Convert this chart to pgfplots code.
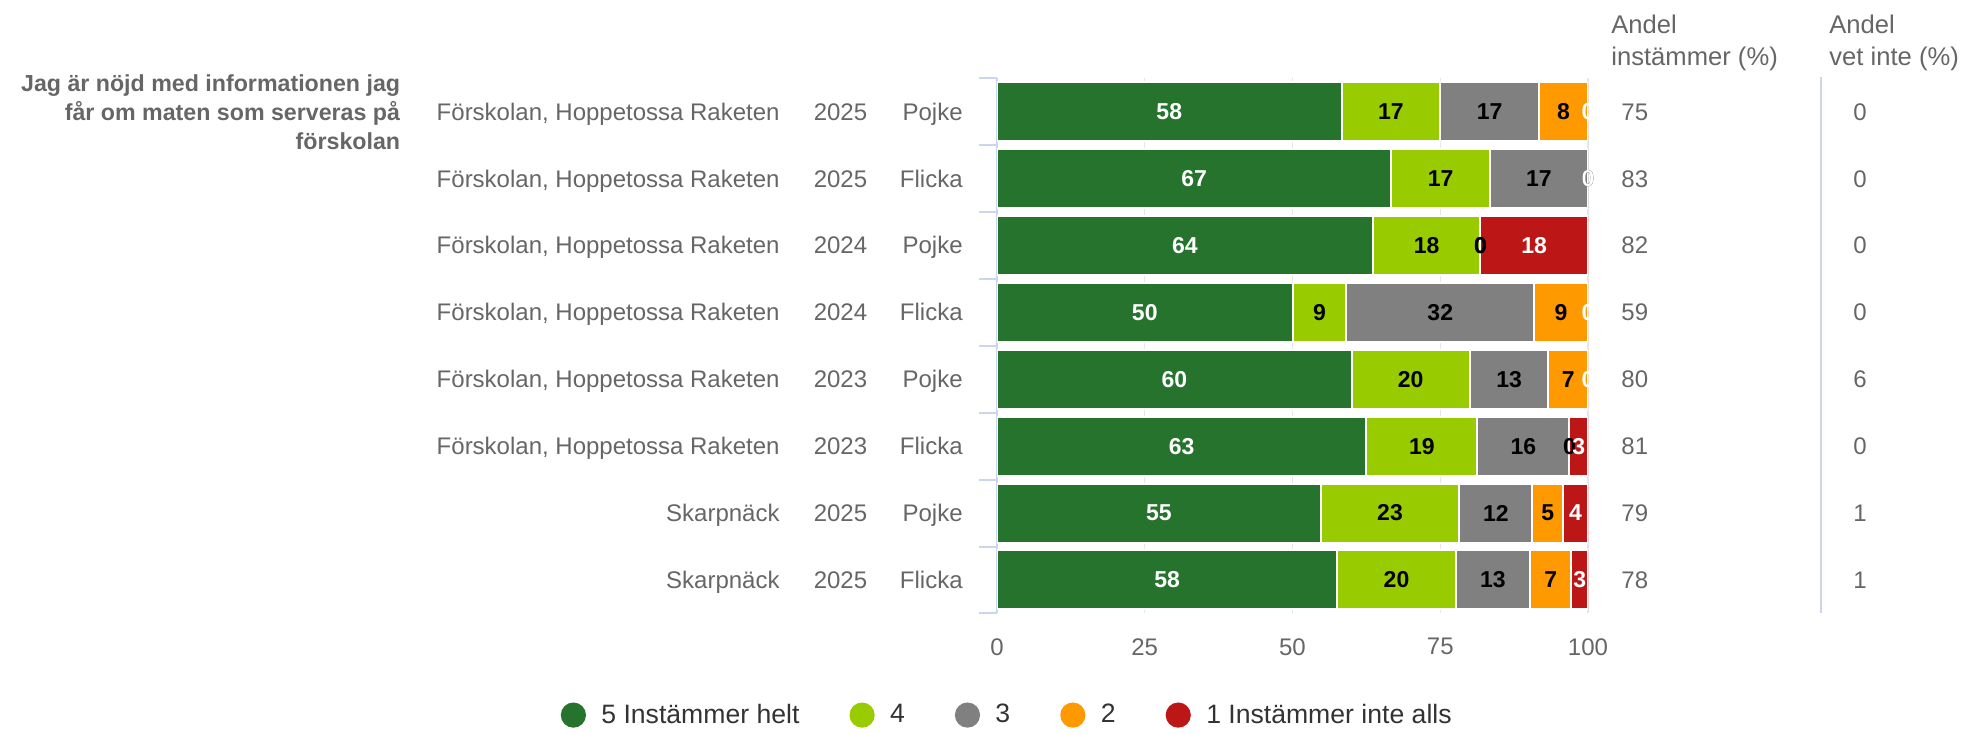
\documentclass[border=0pt]{standalone}
\usepackage{fontspec}
\setmainfont{Liberation Sans}
\usepackage{pgfplots}
\usepackage{pgfplotstable}
\pgfplotsset{compat=1.18}

\definecolor{c5}{HTML}{26732E}
\definecolor{c4}{HTML}{99CC00}
\definecolor{c3}{HTML}{808080}
\definecolor{c2}{HTML}{FF9900}
\definecolor{c1}{HTML}{BD1616}
\definecolor{txt}{HTML}{666666}
\definecolor{legtxt}{HTML}{333333}
\definecolor{axl}{HTML}{CCD6EB}
\definecolor{grd}{HTML}{E6E6E6}

% share (%) per answer, rows from top (1) to bottom (8)
\pgfplotstableread{
row pos g5   g4    g3   g2  g1
1   8   58.3 16.7  16.7 8.3 0
2   7   66.7 16.7  16.6 0   0
3   6   63.6 18.2  0    0   18.2
4   5   50.0 9.1   31.8 9.1 0
5   4   60.0 20.0  13.3 6.7 0
6   3   62.5 18.75 15.6 0   3.15
7   2   54.8 23.4  12.4 5.2 4.2
8   1   57.6 20.0  12.6 7.0 2.8
}\shares

\newcommand\lbl{\fontsize{12}{14}\selectfont}

\pgfplotsset{
  frame/.style={at={(498.5pt,-306.7pt)}, anchor=south west,
    scale only axis, width=295.5pt, height=267.6pt,
    xmin=0, xmax=100, ymin=0.5, ymax=8.5,
    /pgf/number format/assume math mode=true},
  seglabel/.style={draw=none, mark=none, point meta=\thisrow{#1},
    nodes near coords={\pgfmathprintnumber[fixed,precision=0,assume math mode=true]{\pgfplotspointmeta}}},
}

\begin{document}
\begin{tikzpicture}
\begin{scope}[x=0.5pt,y=-0.5pt]
  \path[use as bounding box] (0,0) rectangle (1967,732);
\end{scope}

\begin{axis}[
    frame,
    xbar stacked,
    bar width=29.5pt,
    axis x line*=bottom,
    axis y line*=left,
    x axis line style={draw=none},
    y axis line style={axl, line width=1pt},
    xtick={0,25,50,75,100},
    x tick style={draw=none},
    ytick={0.5,1.5,...,8.5},
    yticklabels={},
    y tick style={axl, line width=1pt},
    tick align=outside,
    major tick length=9pt,
    xmajorgrids,
    grid style={grd, line width=0.6pt},
    xticklabel style={font=\lbl, text=txt},
    legend columns=-1,
    legend image code/.code={\fill[#1,draw=none] (0pt,0pt) circle (6.3pt);
        \path[draw=none,fill=none] (0pt,0pt) -- (12pt,0pt);},
    legend style={at={(axis description cs:0.019,-0.19)}, anchor=center,
        draw=none, fill=none, font=\fontsize{13.3}{15}\selectfont, text=legtxt,
        /tikz/every even column/.append style={column sep=23pt}},
  ]
  \addplot[fill=c5, draw=white, line width=1pt] table[x=g5, y=pos] {\shares};
  \addplot[fill=c4, draw=white, line width=1pt] table[x=g4, y=pos] {\shares};
  \addplot[fill=c3, draw=white, line width=1pt] table[x=g3, y=pos] {\shares};
  \addplot[fill=c2, draw=white, line width=1pt] table[x=g2, y=pos] {\shares};
  \addplot[fill=c1, draw=white, line width=1pt] table[x=g1, y=pos] {\shares};
  \legend{5 Instämmer helt, 4, 3, 2, 1 Instämmer inte alls}
\end{axis}

% segment labels, centred in each segment (zero shares included)
\begin{axis}[
    frame,
    hide axis,
    nodes near coords align={center},
    every node near coord/.append style={anchor=center,
        font=\bfseries\fontsize{11.5}{13}\selectfont},
  ]
  \addplot[seglabel=g5, nodes near coords style={text=white}]
    table[x expr={\thisrow{g5}/2}, y=pos] {\shares};
  \addplot[seglabel=g4, nodes near coords style={text=black}]
    table[x expr={\thisrow{g5}+\thisrow{g4}/2}, y=pos] {\shares};
  \addplot[seglabel=g3, nodes near coords style={text=black}]
    table[x expr={\thisrow{g5}+\thisrow{g4}+\thisrow{g3}/2}, y=pos] {\shares};
  \addplot[seglabel=g2, nodes near coords style={text=black}]
    table[x expr={\thisrow{g5}+\thisrow{g4}+\thisrow{g3}+\thisrow{g2}/2}, y=pos] {\shares};
  \addplot[seglabel=g1, nodes near coords style={text=white}]
    table[x expr={\thisrow{g5}+\thisrow{g4}+\thisrow{g3}+\thisrow{g2}+\thisrow{g1}/2}, y=pos] {\shares};
\end{axis}

\begin{scope}[x=0.5pt,y=-0.5pt]
  % question
  \node[anchor=base east, inner sep=0pt, text=txt, font=\bfseries\fontsize{11.6}{14}\selectfont]
    at (400.5,91) {Jag är nöjd med informationen jag};
  \node[anchor=base east, inner sep=0pt, text=txt, font=\bfseries\fontsize{11.6}{14}\selectfont]
    at (400.5,120) {får om maten som serveras på};
  \node[anchor=base east, inner sep=0pt, text=txt, font=\bfseries\fontsize{11.6}{14}\selectfont]
    at (400.5,149) {förskolan};
  % row labels and side columns
  \foreach \i/\name/\yr/\sex/\agr/\dk in {
      1/{Förskolan, Hoppetossa Raketen}/2025/Pojke/75/0,
      2/{Förskolan, Hoppetossa Raketen}/2025/Flicka/83/0,
      3/{Förskolan, Hoppetossa Raketen}/2024/Pojke/82/0,
      4/{Förskolan, Hoppetossa Raketen}/2024/Flicka/59/0,
      5/{Förskolan, Hoppetossa Raketen}/2023/Pojke/80/6,
      6/{Förskolan, Hoppetossa Raketen}/2023/Flicka/81/0,
      7/Skarpnäck/2025/Pojke/79/1,
      8/Skarpnäck/2025/Flicka/78/1} {
    \pgfmathsetmacro\yb{111.6+66.9*(\i-1)+8.5}
    \node[anchor=base east, inner sep=0pt, text=txt, font=\lbl] at (780,\yb) {\name};
    \node[anchor=base, inner sep=0pt, text=txt, font=\lbl] at (840.5,\yb) {\yr};
    \node[anchor=base east, inner sep=0pt, text=txt, font=\lbl] at (963,\yb) {\sex};
    \node[anchor=base west, inner sep=0pt, text=txt, font=\lbl] at (1621,\yb) {\agr};
    \node[anchor=base west, inner sep=0pt, text=txt, font=\lbl] at (1853,\yb) {\dk};
  }
  % column headers
  \node[anchor=base west, inner sep=0pt, text=txt, font=\fontsize{12.8}{15}\selectfont] at (1611,33) {Andel};
  \node[anchor=base west, inner sep=0pt, text=txt, font=\fontsize{12.8}{15}\selectfont] at (1611,65) {instämmer (\%)};
  \node[anchor=base west, inner sep=0pt, text=txt, font=\fontsize{12.8}{15}\selectfont] at (1829,33) {Andel};
  \node[anchor=base west, inner sep=0pt, text=txt, font=\fontsize{12.8}{15}\selectfont] at (1829,65) {vet inte (\%)};
  \draw[axl, line width=1pt] (1820.6,77) -- (1820.6,613);
\end{scope}
\end{tikzpicture}
\end{document}
